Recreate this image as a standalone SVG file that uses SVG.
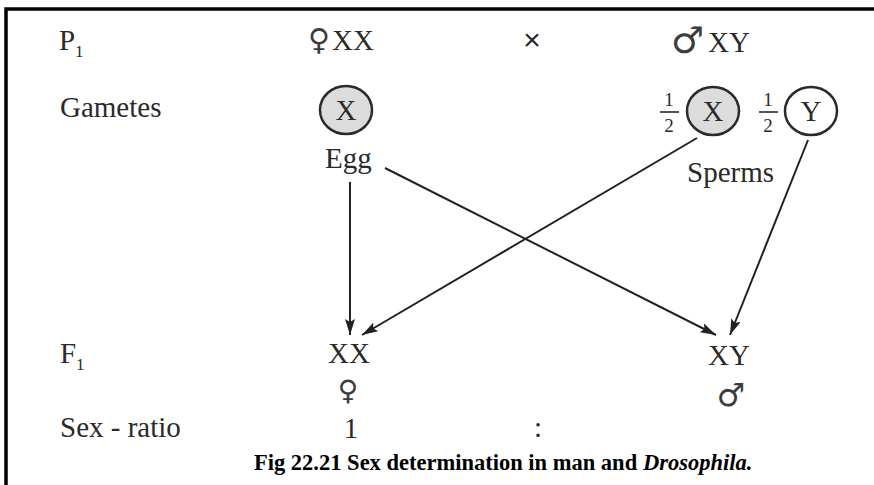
<svg xmlns="http://www.w3.org/2000/svg" width="874" height="485" viewBox="0 0 874 485">
<defs>
<marker id="ah" viewBox="0 0 16 10" refX="16" refY="5" markerWidth="16" markerHeight="10" markerUnits="userSpaceOnUse" orient="auto">
<path d="M0,0 L16,5 L0,10 L3,5 z" fill="#222"/>
</marker>
<style>
.t{font-family:"Liberation Serif","Times New Roman",serif;font-size:29px;fill:#2a2a2a}
.sub{font-family:"Liberation Serif","Times New Roman",serif;font-size:17px;fill:#2a2a2a}
.fr{font-family:"Liberation Serif","Times New Roman",serif;font-size:19px;fill:#2a2a2a;text-anchor:middle}
.sym{font-family:"DejaVu Sans",sans-serif;fill:#3c3c3c}
.c{fill:#dcdcdc;stroke:#2a2a2a;stroke-width:2.5}
.co{fill:#fff;stroke:#2a2a2a;stroke-width:2.5}
.ct{font-family:"Liberation Serif","Times New Roman",serif;font-size:29px;fill:#2a2a2a;text-anchor:middle}
.cn{stroke:#222;stroke-width:2;fill:none;marker-end:url(#ah)}
.cap{font-family:"Liberation Serif","Times New Roman",serif;font-size:22.5px;font-weight:bold;fill:#000}
</style>
</defs>
<rect width="874" height="485" fill="#fff"/>
<path d="M6,485 V9 H874" fill="none" stroke="#000" stroke-width="3.5"/>

<g id="labels">
<text class="t" x="59" y="50">P</text><text class="sub" x="75" y="57">1</text>
<text class="t" x="60" y="117">Gametes</text>
<text class="t" x="60" y="363">F</text><text class="sub" x="76" y="370">1</text>
<text class="t" x="60" y="437">Sex - ratio</text>
</g>

<g id="p-female">
<text class="sym" x="308" y="50" font-size="30">♀</text>
<text class="t" x="332" y="50">XX</text>
</g>
<g id="cross"><text x="532" y="50" font-family="Liberation Sans,Arial,sans-serif" font-size="30" text-anchor="middle" fill="#2a2a2a">×</text></g>
<g id="p-male">
<text class="sym" x="671" y="53" font-size="37">♂</text>
<text class="t" x="708" y="52">XY</text>
</g>

<g id="egg">
<ellipse class="c" cx="346" cy="110" rx="26" ry="24"/>
<text class="ct" x="346" y="120">X</text>
<text class="t" x="325" y="168">Egg</text>
</g>

<g id="sperm-x">
<text class="fr" x="669" y="106">1</text>
<line x1="660" y1="112" x2="679" y2="112" stroke="#2a2a2a" stroke-width="1.6"/>
<text class="fr" x="669" y="132">2</text>
<ellipse class="c" cx="713" cy="111" rx="26" ry="24"/>
<text class="ct" x="713" y="121">X</text>
</g>
<g id="sperm-y">
<text class="fr" x="768" y="106">1</text>
<line x1="759" y1="112" x2="778" y2="112" stroke="#2a2a2a" stroke-width="1.6"/>
<text class="fr" x="768" y="132">2</text>
<ellipse class="co" cx="811" cy="111" rx="26" ry="24"/>
<text class="ct" x="811" y="121">Y</text>
<text class="t" x="687" y="182">Sperms</text>
</g>

<g id="connectors">
<line class="cn" x1="350" y1="182" x2="350" y2="335"/>
<line class="cn" x1="385" y1="168" x2="716" y2="335"/>
<line class="cn" x1="697" y1="138" x2="362" y2="335"/>
<line class="cn" x1="808" y1="140" x2="730" y2="335"/>
</g>

<g id="f1-female">
<text class="ct" x="349" y="363">XX</text>
<text class="sym" x="348" y="400" font-size="28" text-anchor="middle">♀</text>
<text class="ct" x="351" y="438">1</text>
</g>
<g id="ratio-sep"><text class="ct" x="538" y="437">:</text></g>
<g id="f1-male">
<text class="ct" x="729" y="365">XY</text>
<text class="sym" x="731" y="406" font-size="32" text-anchor="middle">♂</text>
</g>

<g id="caption">
<text class="cap" x="254" y="470">Fig 22.21 Sex determination in man and</text>
<text class="cap" x="643" y="470" font-style="italic">Drosophila.</text>
</g>
</svg>
